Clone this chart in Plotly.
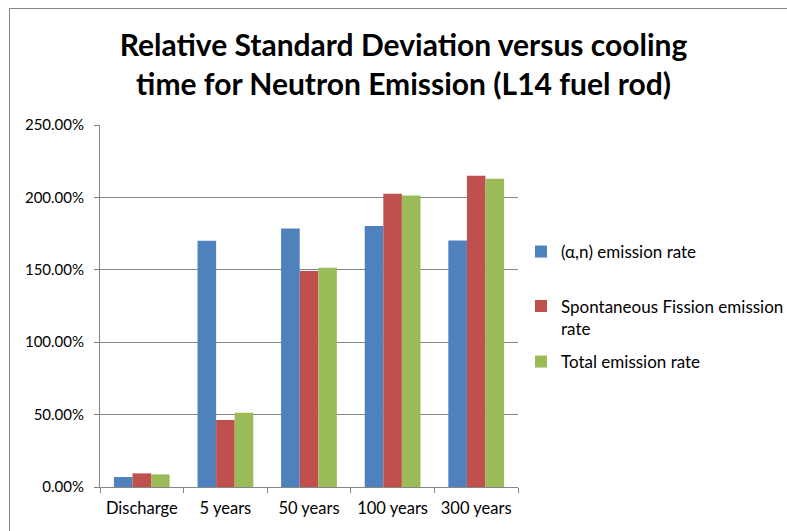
import plotly.graph_objects as go

# Cooling-time categories and relative standard deviation (%) per emission type
categories = ["Discharge", "5 years", "50 years", "100 years", "300 years"]
alpha_n_rsd = [6.9, 170.1, 178.6, 180.2, 170.3]
spont_fission_rsd = [9.4, 46.3, 149.2, 202.5, 214.9]
total_rsd = [8.7, 51.3, 151.5, 201.3, 212.8]

series_names = [
    "(α,n) emission rate",
    "Spontaneous Fission emission<br>rate",
    "Total emission rate",
]
series_values = [alpha_n_rsd, spont_fission_rsd, total_rsd]
series_colors = ["#4F81BD", "#C0504D", "#9BBB59"]
legend_ids = ["legend", "legend2", "legend3"]

FONT = "Lato"
W, H = 787, 531
L, R, T, B = 100, 269, 125, 44
plot_w = W - L - R
plot_h = H - T - B


def px_to_paper_x(px):
    return (px - L) / plot_w


def px_to_paper_y(py):
    return (H - B - py) / plot_h


fig = go.Figure()
for name, vals, color, lg in zip(series_names, series_values, series_colors, legend_ids):
    fig.add_trace(
        go.Bar(
            x=categories,
            y=[v / 100 for v in vals],
            name=name,
            marker=dict(color=color, line=dict(width=0)),
            legend=lg,
            showlegend=True,
        )
    )

legend_common = dict(
    font=dict(family=FONT, size=17, color="#000000"),
    bgcolor="rgba(0,0,0,0)",
    borderwidth=0,
    xref="container",
    yref="container",
    xanchor="left",
    yanchor="middle",
    x=521 / W,
    valign="top",
    visible=True,
)

fig.update_layout(
    width=W,
    height=H,
    margin=dict(l=L, r=R, t=T, b=B, autoexpand=False),
    paper_bgcolor="#FFFFFF",
    plot_bgcolor="#FFFFFF",
    showlegend=True,
    barmode="group",
    bargap=0.333,
    bargroupgap=0,
    font=dict(family=FONT, size=15, color="#000000"),
    title=dict(
        text="Relative Standard Deviation versus cooling<br>time for Neutron Emission (L14 fuel rod)",
        font=dict(family=FONT, size=30, color="#000000", weight="bold"),
        x=403.5 / W,
        xanchor="center",
        xref="container",
        y=1 - 56 / H,
        yanchor="middle",
        yref="container",
    ),
    legend=dict(**legend_common, y=1 - 252 / H),
    legend2=dict(**legend_common, y=1 - 317.5 / H),
    legend3=dict(**legend_common, y=1 - 362 / H),
    xaxis=dict(
        type="category",
        automargin=False,
        tickangle=0,
        showline=True,
        linecolor="#868686",
        linewidth=1,
        showgrid=False,
        ticks="outside",
        tickson="boundaries",
        ticklen=5,
        tickcolor="#868686",
        ticklabelstandoff=6,
        tickfont=dict(family=FONT, size=16.5, color="#000000"),
    ),
    yaxis=dict(
        automargin=False,
        range=[0, 2.5],
        dtick=0.5,
        tickformat=".2%",
        showline=True,
        linecolor="#868686",
        linewidth=1,
        showgrid=True,
        gridcolor="#868686",
        gridwidth=1,
        zeroline=False,
        ticks="outside",
        ticklen=5,
        tickcolor="#868686",
        ticklabelstandoff=7,
        tickfont=dict(family=FONT, size=15, color="#000000"),
    ),
    shapes=[
        dict(
            type="rect",
            xref="paper",
            yref="paper",
            x0=px_to_paper_x(9.5),
            x1=px_to_paper_x(W + 20),
            y0=px_to_paper_y(H + 20),
            y1=px_to_paper_y(8.5),
            line=dict(color="#868686", width=1),
            fillcolor="rgba(0,0,0,0)",
            layer="below",
        )
    ],
)

fig.write_html("out.html")
